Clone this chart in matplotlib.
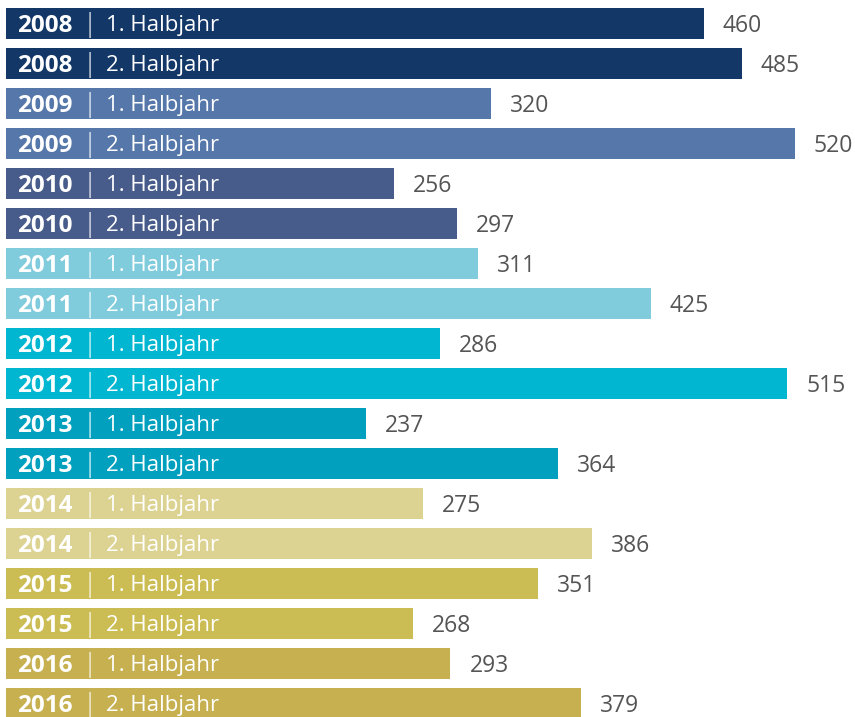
import matplotlib.pyplot as plt

# Daten
years = ["2008", "2008", "2009", "2009", "2010", "2010", "2011", "2011", "2012",
         "2012", "2013", "2013", "2014", "2014", "2015", "2015", "2016", "2016"]
halves = ["1. Halbjahr", "2. Halbjahr"] * 9
values = [460, 485, 320, 520, 256, 297, 311, 425, 286,
          515, 237, 364, 275, 386, 351, 268, 293, 379]
year_colors = {
    "2008": "#133868", "2009": "#5677aa", "2010": "#485c8b",
    "2011": "#80cbdc", "2012": "#00b6d0", "2013": "#00a0be",
    "2014": "#dcd392", "2015": "#cbbd53", "2016": "#c6b050",
}

plt.rcParams['font.family'] = ['Open Sans', 'DejaVu Sans']

fig = plt.figure(figsize=(8.55, 7.17), dpi=100)
ax = fig.add_axes([0, 0, 1, 1])

pos = list(range(len(values)))
colors = [year_colors[y] for y in years]
ax.barh(pos, values, height=0.775, color=colors, linewidth=0)

fs = 16
for i, (y, h, v) in enumerate(zip(years, halves, values)):
    ax.annotate(y, xy=(0, i), xytext=(11, -2), textcoords='offset pixels',
                ha='left', va='center', color='white', fontsize=17.5, fontweight='bold')
    ax.annotate("|", xy=(0, i), xytext=(76, -1), textcoords='offset pixels',
                ha='left', va='center', color='white', fontsize=19, fontweight='light')
    ax.annotate(h, xy=(0, i), xytext=(100, -2), textcoords='offset pixels',
                ha='left', va='center', color='white', fontsize=fs)
    ax.annotate(str(v), xy=(v, i), xytext=(19, -2), textcoords='offset pixels',
                ha='left', va='center', color='#555555', fontsize=16.5)

ax.set_xlim(-3.96, 559.7)
ax.set_ylim(17.3375, -0.5875)
ax.axis('off')

fig.savefig("out.png", dpi=100)
